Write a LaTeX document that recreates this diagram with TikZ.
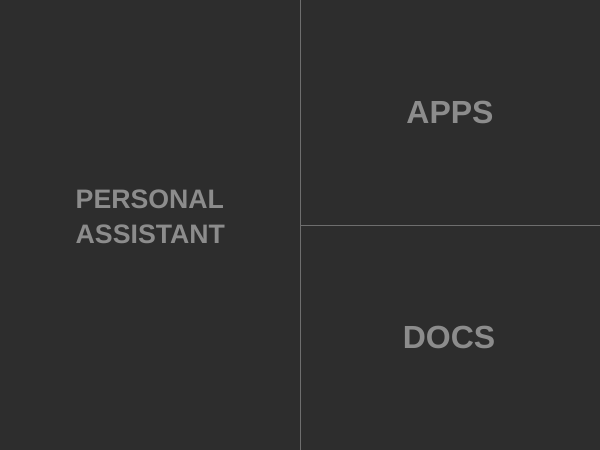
\documentclass[tikz,border=0pt]{standalone}
\usepackage{fontspec}
\setmainfont{Liberation Sans}
\definecolor{bg}{HTML}{2D2D2D}
\definecolor{txt}{HTML}{8C8C8C}
\definecolor{ln}{HTML}{6E6E6E}
\begin{document}
\begin{tikzpicture}[x=1pt,y=-1pt,
  lbl/.style={text=txt,font=\bfseries\fontsize{32}{36}\selectfont,inner sep=0pt},
  lbls/.style={text=txt,font=\bfseries\fontsize{26.7}{35}\selectfont,inner sep=0pt,align=left},
  div/.style={draw=ln,line width=1pt}]
\fill[bg] (0,0) rectangle (600,450);
\useasboundingbox (0,0) rectangle (600,450);
\coordinate (vt) at (300,0);
\coordinate (vb) at (300,450);
\coordinate (hl) at (300,225);
\coordinate (hr) at (600,225);
\draw[div] (vt) -- (vb);
\draw[div] (hl) -- (hr);
\node[lbls,anchor=west] (pa) at (75.5,217) {PERSONAL\\ASSISTANT};
\node[lbl] (apps) at (450,112) {APPS};
\node[lbl] (docs) at (449,337) {DOCS};
\end{tikzpicture}
\end{document}
